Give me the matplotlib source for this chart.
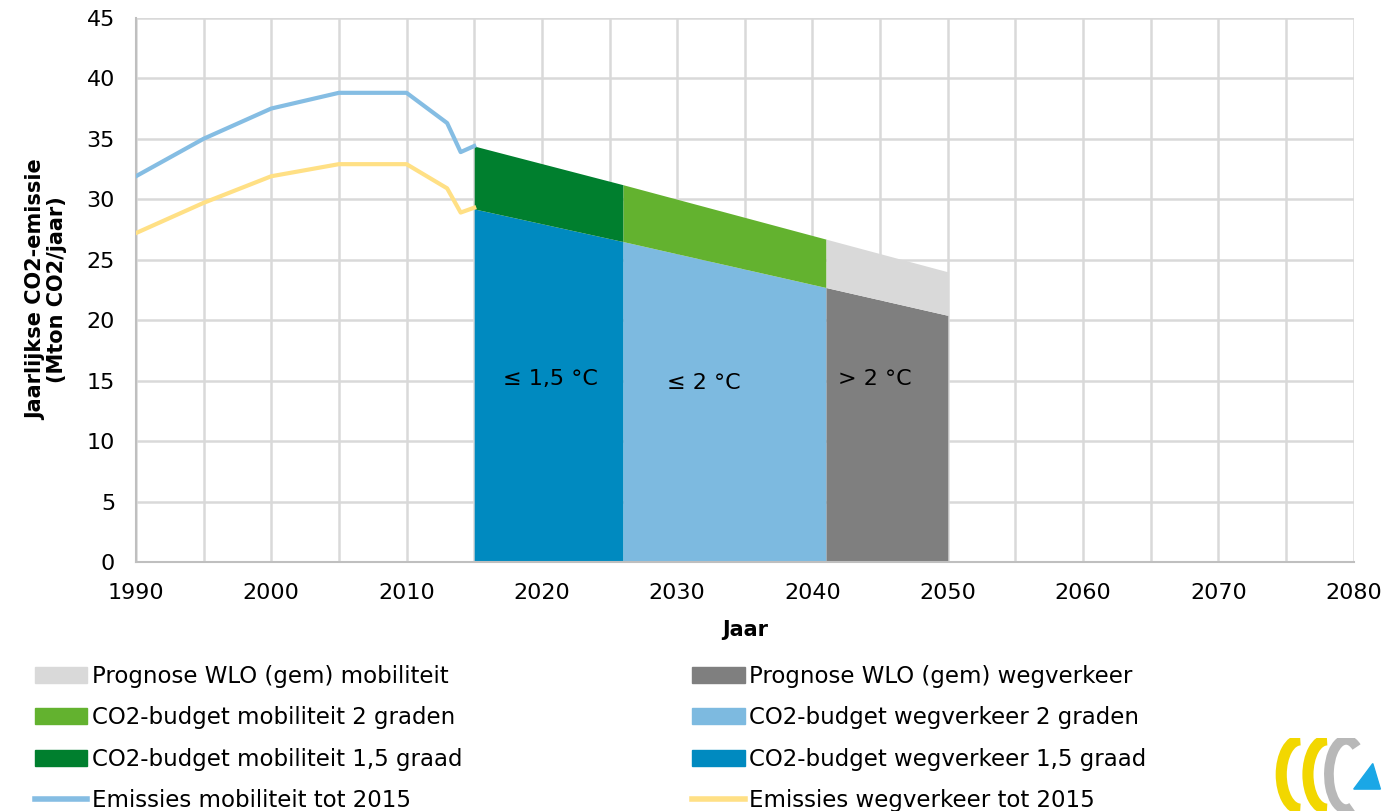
"""CO2-emissies mobiliteit en wegverkeer met CO2-budgetten."""

import matplotlib

matplotlib.use("Agg")
import matplotlib.pyplot as plt
from matplotlib.patches import Patch, Arc, Polygon
from matplotlib.lines import Line2D

# historic emissions (Mton CO2/jaar)
hist_years = [1990, 1995, 2000, 2005, 2010, 2013, 2014, 2015]
hist_mobiliteit = [31.9, 35.0, 37.5, 38.8, 38.8, 36.3, 33.9, 34.4]
hist_wegverkeer = [27.2, 29.7, 31.9, 32.9, 32.9, 30.9, 28.9, 29.3]

# budget / prognosis segments
seg_years = [2015, 2026, 2041, 2050]
budget_mobiliteit = [34.4, 31.2, 26.7, 24.0]
budget_wegverkeer = [29.2, 26.5, 22.7, 20.4]

seg_labels = ["≤ 1,5 °C", "≤ 2 °C", "> 2 °C"]
seg_label_pos = [(2020.6, 15.1), (2032.0, 14.8), (2044.6, 15.1)]

col_mob = ["#007f2e", "#63b22f", "#d9d9d9"]
col_weg = ["#008ac0", "#7dbae0", "#7f7f7f"]
line_mob = "#85bde3"
line_weg = "#ffe085"

plt.rcParams["font.family"] = ["DejaVu Sans"]

fig = plt.figure(figsize=(13.87, 8.11), dpi=100)
ax = fig.add_axes([0.098, 0.307, 0.878, 0.671])

for i in range(3):
    xs = seg_years[i:i + 2]
    ax.fill_between(xs, 0, budget_wegverkeer[i:i + 2], color=col_weg[i], lw=0, zorder=2)
    ax.fill_between(xs, budget_wegverkeer[i:i + 2], budget_mobiliteit[i:i + 2],
                    color=col_mob[i], lw=0, zorder=2)
    ax.text(seg_label_pos[i][0], seg_label_pos[i][1], seg_labels[i],
            ha="center", va="center", fontsize=16, zorder=3)

ax.plot(hist_years, hist_mobiliteit, color=line_mob, lw=3, zorder=3)
ax.plot(hist_years, hist_wegverkeer, color=line_weg, lw=3, zorder=3)

ax.set_xlim(1990, 2080)
ax.set_ylim(0, 45)
ax.set_xticks(range(1990, 2081, 10))
ax.set_xticks(range(1995, 2080, 10), minor=True)
ax.set_yticks(range(0, 46, 5))
ax.tick_params(labelsize=16, length=0)
ax.tick_params(axis="x", pad=15)
ax.tick_params(axis="y", pad=15)
ax.tick_params(which="minor", length=0)
ax.grid(True, which="both", color="#d9d9d9", lw=1.8, zorder=0)
ax.set_axisbelow(True)
for s in ["top", "right"]:
    ax.spines[s].set_visible(False)
for s in ["left", "bottom"]:
    ax.spines[s].set_color("#bfbfbf")
    ax.spines[s].set_linewidth(1.5)

ax.set_xlabel("Jaar", fontsize=15, fontweight="bold", labelpad=12)
ax.set_ylabel("Jaarlijkse CO2-emissie\n(Mton CO2/jaar)", fontsize=15,
              fontweight="bold", labelpad=14, linespacing=1.05)

left_handles = [
    Patch(color=col_mob[2]),
    Patch(color=col_mob[1]),
    Patch(color=col_mob[0]),
    Line2D([], [], color=line_mob, lw=4),
]
left_labels = [
    "Prognose WLO (gem) mobiliteit",
    "CO2-budget mobiliteit 2 graden",
    "CO2-budget mobiliteit 1,5 graad",
    "Emissies mobiliteit tot 2015",
]
right_handles = [
    Patch(color=col_weg[2]),
    Patch(color=col_weg[1]),
    Patch(color=col_weg[0]),
    Line2D([], [], color=line_weg, lw=4),
]
right_labels = [
    "Prognose WLO (gem) wegverkeer",
    "CO2-budget wegverkeer 2 graden",
    "CO2-budget wegverkeer 1,5 graad",
    "Emissies wegverkeer tot 2015",
]
leg_kw = dict(frameon=False, fontsize=16.5, handlelength=2.3, handleheight=0.68,
              handletextpad=0.2, labelspacing=0.8, loc="upper left",
              borderaxespad=0, borderpad=0)
fig.legend(left_handles, left_labels, bbox_to_anchor=(0.025, 0.18), **leg_kw)
fig.legend(right_handles, right_labels, bbox_to_anchor=(0.499, 0.18), **leg_kw)

# small logo in the corner
lax = fig.add_axes([0.91, 0.0, 0.088, 0.09])
lax.set_xlim(0, 1.6)
lax.set_ylim(0, 1)
lax.axis("off")
lax.add_patch(Arc((0.5, 0.5), 0.5, 0.95, theta1=90, theta2=270, color="#f2d700", lw=8))
lax.add_patch(Arc((0.85, 0.5), 0.5, 0.95, theta1=90, theta2=270, color="#f2d700", lw=8))
lax.add_patch(Arc((1.1, 0.5), 0.45, 0.95, theta1=70, theta2=280, color="#b8b8b8", lw=7))
lax.add_patch(Polygon([[1.2, 0.3], [1.55, 0.3], [1.45, 0.65]], color="#1aa7e6"))

fig.savefig("out.png", dpi=100)
